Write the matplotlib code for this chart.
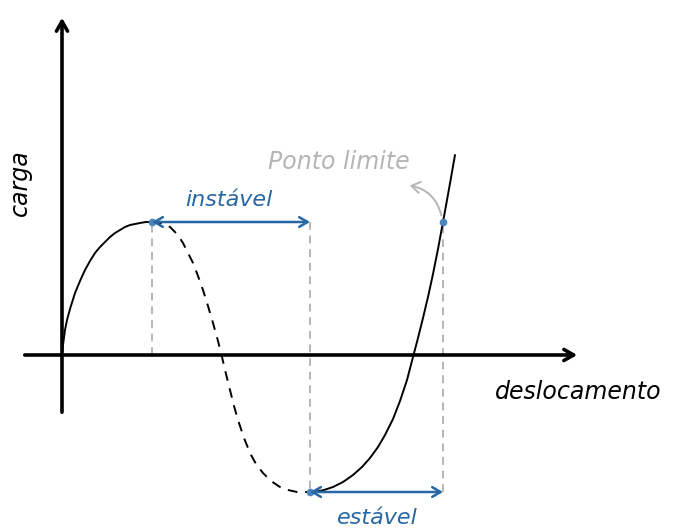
import matplotlib.pyplot as plt
from matplotlib.patches import FancyArrowPatch

# curve (x: displacement, y: load), in arbitrary units
rise_x = [0, 1, 3, 5, 8, 13, 18, 23, 28, 33, 38, 43, 48, 53, 58, 63, 68, 73, 78, 84, 90]
rise_y = [0, 10, 25, 35, 46, 62, 74, 85, 94, 102, 108, 113, 118, 122, 125, 128, 130, 131, 132, 133, 133]
drop_x = [90, 98, 108, 115, 121, 126, 131, 136, 141, 146, 151, 156, 160, 164, 168, 172, 176,
          182, 188, 194, 201, 209, 218, 226, 235, 242, 248]
drop_y = [133, 132, 128, 121, 112, 102, 92, 79, 65, 49, 32, 14, -2, -19, -35, -51, -65,
          -83, -98, -109, -118, -126, -132, -135, -137, -137, -137]
climb_x = [248, 255, 262, 271, 281, 291, 300, 308, 316, 323, 331, 338, 345, 351, 356, 361,
           366, 371, 376, 381, 387, 393]
climb_y = [-137, -136.5, -135, -132, -127, -120, -112, -103, -92, -80, -64, -46, -25, -2, 17, 37,
           58, 81, 106, 133, 166, 200]

x_max, y_max = 90, 133
x_min, y_min = 248, -137
x_lim, y_lim = 381, 133

blue = '#2767a4'
grey = '#b5b5b5'
font = 'DejaVu Sans'


def main():
    fig = plt.figure(figsize=(6.73, 5.29), dpi=100)
    ax = fig.add_axes([0, 0, 1, 1])
    ax.set_xlim(-62, 611)
    ax.set_ylim(-174, 355)
    ax.axis('off')

    # axes with open arrowheads
    ax.annotate('', xy=(518, 0), xytext=(-40, 0),
                arrowprops=dict(arrowstyle='->,head_length=0.7,head_width=0.4', lw=2.6, color='black'))
    ax.annotate('', xy=(0, 340), xytext=(0, -60),
                arrowprops=dict(arrowstyle='->,head_length=0.7,head_width=0.4', lw=2.6, color='black'))

    # guide lines
    ax.plot([x_max, x_max], [0, y_max], ls=(0, (4, 3)), color=grey, lw=1.4)
    ax.plot([x_min, x_min], [y_max, y_min], ls=(0, (4, 3)), color=grey, lw=1.4)
    ax.plot([x_lim, x_lim], [y_min, y_lim], ls=(0, (4, 3)), color=grey, lw=1.4)

    # curve
    ax.plot(rise_x, rise_y, color='black', lw=1.4, solid_capstyle='round', solid_joinstyle='round')
    ax.plot(drop_x, drop_y, color='black', lw=1.4, ls=(0, (5, 4)))
    ax.plot(climb_x, climb_y, color='black', lw=1.4, solid_capstyle='round', solid_joinstyle='round')

    # ranges
    ax.annotate('', xy=(x_min, y_max), xytext=(x_max, y_max),
                arrowprops=dict(arrowstyle='<->,head_length=0.6,head_width=0.35', lw=1.8, color=blue,
                                shrinkA=0, shrinkB=0))
    ax.annotate('', xy=(x_lim, y_min), xytext=(x_min, y_min),
                arrowprops=dict(arrowstyle='<->,head_length=0.6,head_width=0.35', lw=1.8, color=blue,
                                shrinkA=0, shrinkB=0))
    ax.plot([x_max, x_min, x_lim], [y_max, y_min, y_lim], 'o', color='#4a86bd', ms=4.5)

    ax.text((x_max + x_min) / 2 - 2, y_max + 22, 'instável', color=blue, fontsize=16,
            family=font, style='oblique', ha='center', va='center')
    ax.text((x_min + x_lim) / 2 + 1, y_min - 26, 'estável', color=blue, fontsize=16,
            family=font, style='oblique', ha='center', va='center')

    # limit point
    ax.text(277, 193, 'Ponto limite', color=grey, fontsize=17, family=font,
            style='oblique', ha='center', va='center')
    arc = FancyArrowPatch((x_lim - 1, y_lim + 4), (345, 170), connectionstyle='arc3,rad=0.35',
                          arrowstyle='->,head_length=6,head_width=4', color=grey, lw=1.4)
    ax.add_patch(arc)

    ax.text(-42, 172, 'carga', fontsize=17, family=font, style='oblique',
            rotation=90, ha='center', va='center')
    ax.text(516, -37, 'deslocamento', fontsize=17, family=font, style='oblique',
            ha='center', va='center')

    fig.savefig('out.png', dpi=100)


if __name__ == '__main__':
    main()
